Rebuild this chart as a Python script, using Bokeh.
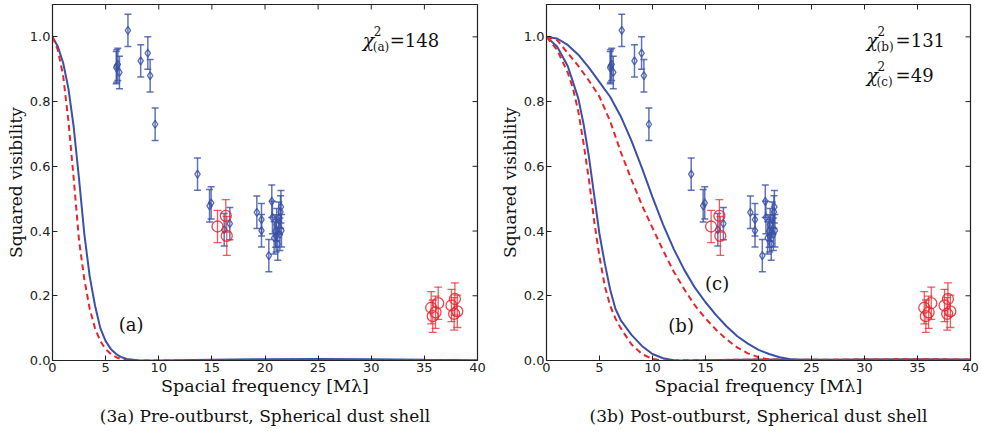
import math
from bokeh.plotting import figure
from bokeh.layouts import row
from bokeh.models import (Range1d, FixedTicker, PrintfTickFormatter,
                          ColumnDataSource, Whisker, TeeHead, Label, Title)
from bokeh.embed import file_html
from bokeh.resources import INLINE

# ---------------- data ----------------
blue_x = [6.05, 6.0, 6.15, 6.3, 7.1, 8.3, 8.97, 9.19, 9.66, 13.65, 14.78, 14.93, 16.16, 16.69,
          19.23, 19.67, 19.67, 20.36, 20.64, 20.7, 20.86, 21.0, 21.1, 21.2, 21.3, 21.46, 21.55,
          21.5, 21.4, 21.05]
blue_y = [0.910, 0.905, 0.915, 0.890, 1.020, 0.926, 0.950, 0.880, 0.730, 0.576, 0.478, 0.487,
          0.404, 0.423, 0.458, 0.435, 0.401, 0.324, 0.492, 0.442, 0.379, 0.400, 0.420, 0.360,
          0.440, 0.459, 0.401, 0.475, 0.390, 0.385]
blue_err = [0.05, 0.05, 0.05, 0.05, 0.05, 0.05, 0.05, 0.05, 0.05, 0.05, 0.05, 0.05, 0.05, 0.05,
            0.05, 0.05, 0.05, 0.05, 0.05, 0.05, 0.05, 0.05, 0.05, 0.05, 0.05, 0.05, 0.05, 0.05,
            0.05, 0.05]

red_x = [15.53, 16.31, 16.40, 35.64, 35.79, 36.05, 36.30, 37.55, 37.87, 37.80, 38.10]
red_y = [0.414, 0.447, 0.385, 0.163, 0.137, 0.149, 0.177, 0.170, 0.190, 0.144, 0.152]
red_err = [0.05, 0.05, 0.06, 0.05, 0.05, 0.05, 0.05, 0.05, 0.05, 0.05, 0.05]

# model curves
a_blue_x = [0, 0.5, 1.0, 1.5, 2.0, 2.5, 3.0, 3.5, 4.0, 4.5, 5.0, 5.5, 6.0, 6.5, 7.0, 8.0, 10, 15, 20, 25, 30, 35, 40]
a_blue_y = [1.0, 0.97, 0.92, 0.84, 0.72, 0.56, 0.39, 0.26, 0.17, 0.10, 0.06, 0.035, 0.02, 0.01, 0.005, 0.001, 0.0,
            0.002, 0.004, 0.005, 0.004, 0.002, 0.001]
a_red_x = [0, 0.5, 1.0, 1.5, 2.0, 2.5, 3.0, 3.5, 4.0, 4.5, 5.0, 5.5, 6.0, 6.5, 7.0, 8.0, 40]
a_red_y = [1.0, 0.96, 0.88, 0.74, 0.56, 0.37, 0.25, 0.16, 0.10, 0.06, 0.035, 0.02, 0.01, 0.004, 0.0015, 0.0, 0.0]

b_blue_x = [0, 1, 2, 2.5, 3, 3.5, 4, 4.5, 5, 5.5, 6, 6.5, 7, 8, 9, 10, 11, 12, 13, 20, 30, 40]
b_blue_y = [1.0, 0.97, 0.91, 0.86, 0.81, 0.73, 0.63, 0.51, 0.39, 0.30, 0.22, 0.16, 0.125, 0.08, 0.045, 0.02,
            0.007, 0.001, 0.0, 0.003, 0.002, 0.001]
b_red_x = [0, 1, 2, 2.5, 3, 3.5, 4, 4.5, 5, 5.5, 6, 6.5, 7, 8, 9, 10, 11, 20, 30, 40]
b_red_y = [1.0, 0.96, 0.89, 0.84, 0.77, 0.67, 0.56, 0.43, 0.32, 0.23, 0.17, 0.13, 0.10, 0.05, 0.02, 0.005,
           0.0, 0.003, 0.002, 0.001]
c_blue_x = [0, 1, 2, 3, 4, 5, 6, 7, 8, 9, 10, 11, 12, 13, 14, 15, 16, 17, 18, 19, 20, 21, 22, 23, 24, 25, 30, 35, 40]
c_blue_y = [1.0, 0.995, 0.975, 0.945, 0.905, 0.86, 0.815, 0.755, 0.68, 0.595, 0.505, 0.42, 0.345, 0.28, 0.225,
            0.18, 0.14, 0.105, 0.075, 0.052, 0.033, 0.02, 0.01, 0.004, 0.001, 0.0, 0.003, 0.004, 0.003]
c_red_x = [0, 1, 2, 3, 4, 5, 6, 7, 8, 9, 10, 11, 12, 13, 14, 15, 16, 17, 18, 19, 20, 21, 22, 30, 35, 40]
c_red_y = [1.0, 0.99, 0.95, 0.91, 0.865, 0.815, 0.74, 0.645, 0.56, 0.48, 0.41, 0.34, 0.275, 0.22, 0.17, 0.13,
           0.095, 0.065, 0.04, 0.022, 0.01, 0.003, 0.0, 0.003, 0.004, 0.003]

x_ticks = [0, 5, 10, 15, 20, 25, 30, 35, 40]
y_ticks = [0.0, 0.2, 0.4, 0.6, 0.8, 1.0]
X_MAX = 40
Y_MAX = 1.1

BLUE = "#3a51a6"
RED = "#e8252d"
SERIF = "DejaVu Serif"
INK = "#222222"


def make_panel(frame_w, mb_left, mb_right, caption):
    p = figure(frame_width=frame_w, frame_height=356, output_backend="svg", toolbar_location=None,
               x_range=Range1d(0, X_MAX), y_range=Range1d(0, Y_MAX),
               min_border_left=mb_left, min_border_right=mb_right,
               min_border_top=4, min_border_bottom=77)
    p.grid.visible = False
    p.outline_line_color = INK
    p.outline_line_width = 1.2
    p.background_fill_color = "white"
    for ax in (p.xaxis[0], p.yaxis[0]):
        ax.major_tick_in = 5
        ax.major_tick_out = 0
        ax.minor_tick_line_color = None
        ax.major_label_text_font = "DejaVu Sans"
        ax.major_label_text_font_size = "13px"
        ax.major_label_text_color = INK
        ax.axis_line_color = INK
        ax.major_tick_line_color = INK
        ax.axis_label_text_font = SERIF
        ax.axis_label_text_font_style = "normal"
        ax.axis_label_text_color = "#111111"
    p.xaxis[0].axis_label_text_font_size = "17.5px"
    p.yaxis[0].axis_label_text_font_size = "17px"
    p.xaxis[0].ticker = FixedTicker(ticks=x_ticks)
    p.yaxis[0].ticker = FixedTicker(ticks=y_ticks)
    p.yaxis[0].formatter = PrintfTickFormatter(format="%.1f")
    p.xaxis[0].axis_label = "Spacial frequency [M\u03bb]"
    p.yaxis[0].axis_label = "Squared visibility"
    p.xaxis[0].major_label_standoff = 2
    p.yaxis[0].major_label_standoff = 2
    p.xaxis[0].axis_label_standoff = 1
    p.yaxis[0].axis_label_standoff = 1
    # mirrored inward ticks on the top and right edges
    p.ray(x=x_ticks, y=[Y_MAX] * len(x_ticks), length=5, length_units="screen",
          angle=-math.pi / 2, line_color=INK, line_width=1)
    p.ray(x=[X_MAX] * len(y_ticks), y=y_ticks, length=5, length_units="screen",
          angle=math.pi, line_color=INK, line_width=1)
    cap = Title(text=caption, align="center", text_font=SERIF, text_font_size="17px",
                text_font_style="normal", text_color="#111111", standoff=10)
    p.add_layout(cap, "below")
    return p


def add_data(p):
    bsrc = ColumnDataSource(dict(x=blue_x, y=blue_y,
                                 lo=[y - e for y, e in zip(blue_y, blue_err)],
                                 hi=[y + e for y, e in zip(blue_y, blue_err)]))
    rsrc = ColumnDataSource(dict(x=red_x, y=red_y,
                                 lo=[y - e for y, e in zip(red_y, red_err)],
                                 hi=[y + e for y, e in zip(red_y, red_err)]))
    p.add_layout(Whisker(source=bsrc, base="x", lower="lo", upper="hi", dimension="height",
                         line_color=BLUE, line_alpha=0.8, line_width=1.5,
                         upper_head=TeeHead(size=7, line_color=BLUE, line_alpha=0.8, line_width=1.5),
                         lower_head=TeeHead(size=7, line_color=BLUE, line_alpha=0.8, line_width=1.5)))
    p.scatter("x", "y", source=bsrc, marker="diamond", size=8, fill_color=None,
              line_color=BLUE, line_width=1.3, line_alpha=0.85)
    p.add_layout(Whisker(source=rsrc, base="x", lower="lo", upper="hi", dimension="height",
                         line_color=RED, line_alpha=0.75, line_width=1.3,
                         upper_head=TeeHead(size=8, line_color=RED, line_alpha=0.75, line_width=1.3),
                         lower_head=TeeHead(size=8, line_color=RED, line_alpha=0.75, line_width=1.3)))
    p.scatter("x", "y", source=rsrc, marker="circle", size=11, fill_color=None,
              line_color=RED, line_width=1.3, line_alpha=0.85)


def chi_label(p, x, y, sub, val, eq_off):
    p.add_layout(Label(x=x, y=y, text="\u03c7", text_font=SERIF, text_font_size="19px",
                       text_font_style="italic", text_baseline="middle", text_color="#111111"))
    p.add_layout(Label(x=x, y=y, x_offset=11, y_offset=9, text="2", text_font=SERIF,
                       text_font_size="12px", text_baseline="middle", text_color="#111111"))
    p.add_layout(Label(x=x, y=y, x_offset=10, y_offset=-7, text=sub, text_font=SERIF,
                       text_font_size="12px", text_baseline="middle", text_color="#111111"))
    p.add_layout(Label(x=x, y=y, x_offset=eq_off, y_offset=0, text="=" + val, text_font=SERIF,
                       text_font_size="18px", text_baseline="middle", text_color="#111111"))


def tag(p, x, y, t):
    p.add_layout(Label(x=x, y=y, text=t, text_font=SERIF, text_font_size="18px",
                       text_baseline="middle", text_align="center", text_color="#111111"))


# ---------------- panel (3a) ----------------
pa = make_panel(425, 52, 12, "(3a) Pre-outburst, Spherical dust shell")
pa.line(a_blue_x, a_blue_y, line_color=BLUE, line_width=2)
pa.line(a_red_x, a_red_y, line_color=RED, line_width=2, line_dash="6 4")
add_data(pa)
chi_label(pa, 29.2, 0.989, "(a)", "148", 27)
tag(pa, 7.4, 0.111, "(a)")

# ---------------- panel (3b) ----------------
pb = make_panel(424, 57, 11, "(3b) Post-outburst, Spherical dust shell")
pb.line(b_blue_x, b_blue_y, line_color=BLUE, line_width=2)
pb.line(b_red_x, b_red_y, line_color=RED, line_width=2, line_dash="6 4")
pb.line(c_blue_x, c_blue_y, line_color=BLUE, line_width=2)
pb.line(c_red_x, c_red_y, line_color=RED, line_width=2, line_dash="6 4")
add_data(pb)
chi_label(pb, 30.2, 0.989, "(b)", "131", 29)
chi_label(pb, 30.2, 0.881, "(c)", "49", 29)
tag(pb, 12.7, 0.108, "(b)")
tag(pb, 16.1, 0.238, "(c)")

layout = row(pa, pb)
open("out.html", "w").write(file_html(layout, INLINE))
